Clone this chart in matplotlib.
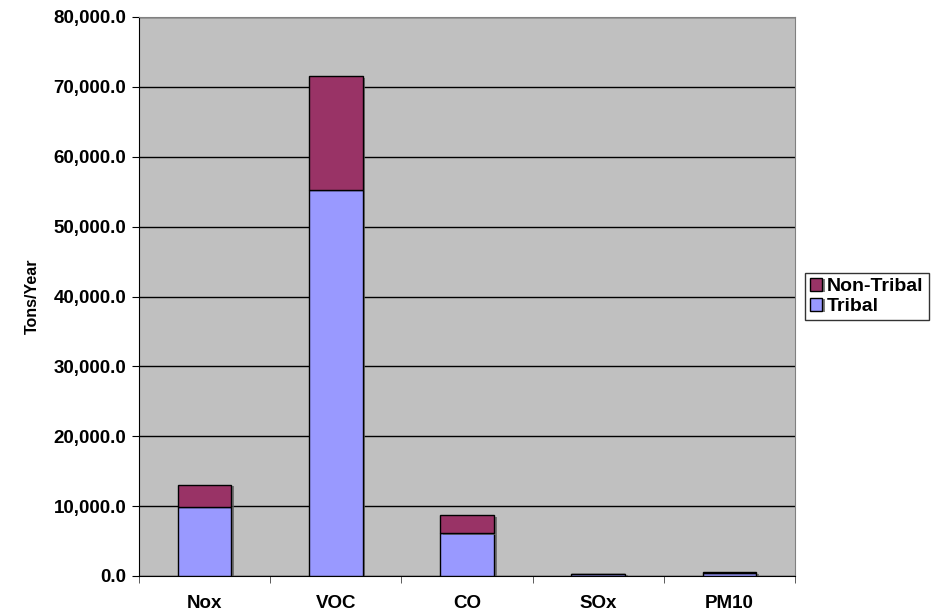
import matplotlib
matplotlib.use("Agg")
import matplotlib.pyplot as plt
import matplotlib.patheffects as pe
import numpy as np
from matplotlib.ticker import FuncFormatter

plt.rcParams['font.family'] = ['Liberation Sans', 'DejaVu Sans']
plt.rcParams['font.weight'] = 'bold'

# data (tons/year)
pollutants = ["Nox", "VOC", "CO", "SOx", "PM10"]
tribal = [9900, 55300, 6100, 330, 450]
non_tribal = [3150, 16200, 2600, 20, 80]

fig = plt.figure(figsize=(9.47, 6.16), dpi=100)
ax = fig.add_axes([139/947, 1 - 576/616, 656/947, 559/616])
ax.set_facecolor("#c0c0c0")

x = np.arange(len(pollutants))
shadow = [pe.SimplePatchShadow(offset=(2, -1), shadow_rgbFace="#606060", alpha=0.8), pe.Normal()]
b1 = ax.bar(x, tribal, width=0.41, color="#9999ff", edgecolor="black", linewidth=1, label="Tribal", zorder=3)
b2 = ax.bar(x, non_tribal, width=0.41, bottom=tribal, color="#993366", edgecolor="black", linewidth=1,
            label="Non-Tribal", zorder=3)
for p in list(b1) + list(b2):
    p.set_path_effects(shadow)

ax.set_xlim(-0.5, len(pollutants) - 0.5)
ax.set_ylim(0, 80000)
ax.set_yticks(np.arange(0, 80001, 10000))
ax.yaxis.set_major_formatter(FuncFormatter(lambda v, p: f"{v:,.1f}"))
ax.yaxis.grid(True, color="black", linewidth=1, zorder=1)
ax.set_axisbelow(True)

ax.set_xticks(x)
ax.set_xticklabels(pollutants, fontsize=13.5, fontweight="bold")
ax.set_xticks(np.arange(-0.5, len(pollutants), 1), minor=True)
ax.tick_params(axis="x", which="major", length=0, pad=14)
ax.tick_params(axis="x", which="minor", length=5, color="#404040")
ax.tick_params(axis="y", length=5, labelsize=13.5, pad=4)
for lbl in ax.get_yticklabels():
    lbl.set_fontweight("bold")

for s in ["top", "right"]:
    ax.spines[s].set_color("#808080")
ax.spines["left"].set_color("black")
ax.spines["bottom"].set_color("black")

ax.set_ylabel("Tons/Year", fontsize=11.5, fontweight="bold", labelpad=10)

handles = [b2, b1]
leg = ax.legend(handles, ["Non-Tribal", "Tribal"], loc="center left", bbox_to_anchor=(1.015, 0.5),
                fontsize=14, frameon=True, fancybox=False, handlelength=0.65, handleheight=0.65,
                handletextpad=0.25, borderpad=0.25, labelspacing=0.15, borderaxespad=0)
leg.get_frame().set_edgecolor("black")
leg.get_frame().set_linewidth(1)
for t in leg.get_texts():
    t.set_fontweight("bold")

fig.savefig("out.png", dpi=100)
